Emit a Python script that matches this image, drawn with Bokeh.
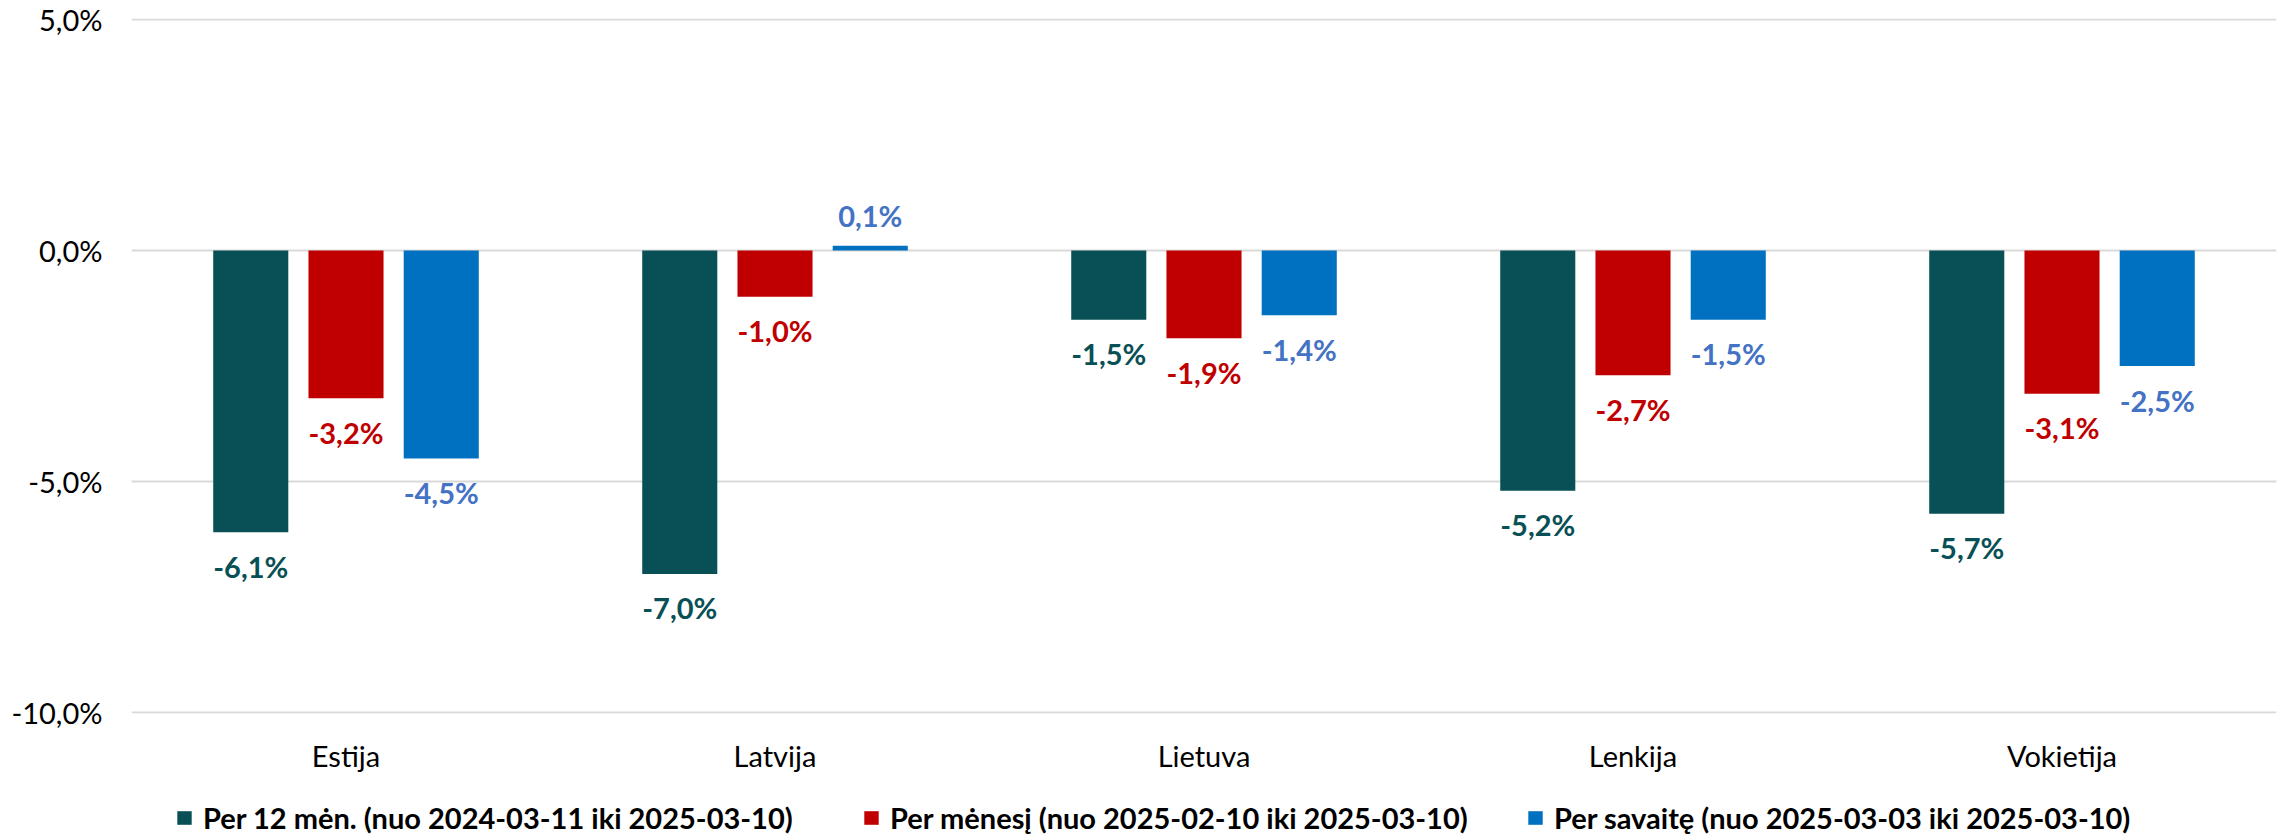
from bokeh.plotting import figure
from bokeh.models import (ColumnDataSource, FactorRange, Range1d, FixedTicker,
                          LabelSet, Legend, LegendItem)
from bokeh.layouts import column
from bokeh.transform import dodge
from bokeh.core.properties import value
from bokeh.embed import file_html
from bokeh.resources import INLINE

countries = ["Estija", "Latvija", "Lietuva", "Lenkija", "Vokietija"]
per_12m = [-6.1, -7.0, -1.5, -5.2, -5.7]
per_month = [-3.2, -1.0, -1.9, -2.7, -3.1]
per_week = [-4.5, 0.1, -1.4, -1.5, -2.5]
series_names = [
    "Per 12 mėn. (nuo 2024-03-11 iki 2025-03-10)",
    "Per mėnesį (nuo 2025-02-10 iki 2025-03-10)",
    "Per savaitę (nuo 2025-03-03 iki 2025-03-10)",
]
y_ticks = [-10, -5, 0, 5]

bar_colors = ["#095056", "#C00000", "#0070C0"]
label_colors = ["#095056", "#C00000", "#4472C4"]
offsets = [-0.222, 0.0, 0.222]
legend_x = [44, 731, 1395]
FONT = "Lato"
W = 2278
LEFT = 131


def fmt(v):
    return f"{v:.1f}".replace(".", ",") + "%"


p = figure(
    width=W, height=775,
    x_range=FactorRange(factors=countries, range_padding=0),
    y_range=Range1d(-10.02, 5.02),
    output_backend="svg", toolbar_location=None,
    min_border_left=LEFT, min_border_right=2,
    min_border_top=18, min_border_bottom=59,
)
p.outline_line_color = None

# axes
p.yaxis.ticker = FixedTicker(ticks=y_ticks)
p.yaxis.major_label_overrides = {t: fmt(t) for t in y_ticks}
p.yaxis.axis_line_color = None
p.yaxis.major_tick_line_color = None
p.yaxis.major_tick_out = 0
p.yaxis.minor_tick_line_color = None
p.yaxis.minor_tick_out = 0
p.yaxis.major_label_standoff = 29
p.yaxis.major_label_text_font = FONT
p.yaxis.major_label_text_font_size = "29px"
p.yaxis.major_label_text_color = "#000000"

p.xaxis.axis_line_color = None
p.xaxis.major_tick_line_color = None
p.xaxis.major_tick_out = 0
p.xaxis.minor_tick_line_color = None
p.xaxis.major_label_standoff = 24
p.xaxis.major_label_text_font = FONT
p.xaxis.major_label_text_font_size = "29px"
p.xaxis.major_label_text_color = "#000000"

p.xgrid.grid_line_color = None
p.ygrid.grid_line_color = "#D9D9D9"
p.ygrid.grid_line_width = 2

# legend strip below the chart (shares the categories; its y-range lies
# above every bar so the bars themselves are not shown here)
p2 = figure(width=W, height=60, x_range=p.x_range, y_range=Range1d(100, 101),
            output_backend="svg", toolbar_location=None,
            min_border_left=LEFT, min_border_right=2, min_border_top=0,
            min_border_bottom=0)
p2.axis.visible = False
p2.grid.visible = False
p2.outline_line_color = None

for i, vals in enumerate([per_12m, per_month, per_week]):
    src = ColumnDataSource(dict(
        x=countries,
        y=vals,
        label=[fmt(v) for v in vals],
        off=[-34 if v < 0 else 30 for v in vals],
    ))
    xd = dodge("x", offsets[i], range=p.x_range)
    p.vbar(x=xd, top="y", bottom=0, width=0.175, source=src,
           fill_color=bar_colors[i], line_color=None)
    labels = LabelSet(x=xd, y="y", text="label",
                      y_offset="off", source=src, text_align="center",
                      text_baseline="middle", text_font=value(FONT),
                      text_font_size="29px", text_font_style="bold",
                      text_color=label_colors[i])
    p.add_layout(labels)

    r2 = p2.vbar(x=xd, top="y", bottom=0, width=0.175, source=src,
                 fill_color=bar_colors[i], line_color=None)
    leg = Legend(items=[LegendItem(label=series_names[i], renderers=[r2])],
                 location=(legend_x[i], 0),
                 border_line_color=None, background_fill_alpha=0,
                 padding=0, margin=0, glyph_width=18, glyph_height=17,
                 label_standoff=10, label_text_font=FONT,
                 label_text_font_size="29px", label_text_font_style="bold",
                 label_text_line_height=0.8,
                 label_text_color="#000000", label_height=17)
    p2.add_layout(leg, "center")

layout = column(p, p2, spacing=0)
open("out.html", "w").write(file_html(layout, INLINE))
